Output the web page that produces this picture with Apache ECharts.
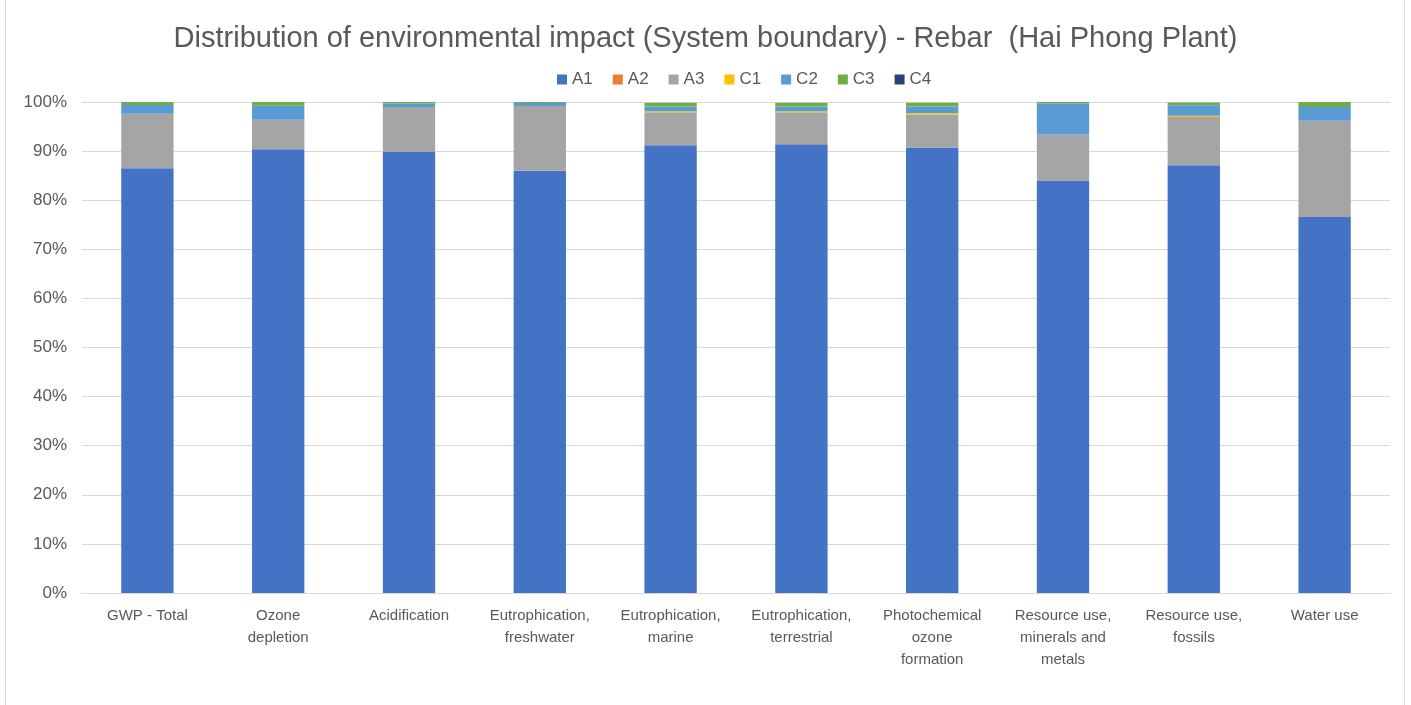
<!DOCTYPE html>
<html><head><meta charset="utf-8">
<script src="https://cdn.jsdelivr.net/npm/echarts@6/dist/echarts.min.js"></script>
<style>html,body{margin:0;padding:0;background:#fff;}
#frame{position:absolute;left:5px;top:-2px;width:1400px;height:720px;border:1px solid #d9d9d9;box-sizing:border-box;}
#c{width:1411px;height:705px;position:absolute;left:0;top:0;}</style>
</head><body><div id="frame"></div><div id="c"></div>
<script>
const categories = ["GWP - Total","Ozone\ndepletion","Acidification","Eutrophication,\nfreshwater","Eutrophication,\nmarine","Eutrophication,\nterrestrial","Photochemical\nozone\nformation","Resource use,\nminerals and\nmetals","Resource use,\nfossils","Water use"];
const A1 = [86.5, 90.4, 89.8, 86.0, 91.2, 91.4, 90.75, 83.9, 87.1, 76.6];
const A2 = [0, 0, 0, 0, 0, 0, 0, 0, 0, 0];
const A3 = [11.1, 6.0, 9.2, 13.2, 6.7, 6.5, 6.65, 9.5, 9.85, 19.6];
const C1 = [0, 0, 0, 0, 0.2, 0.2, 0.3, 0, 0.27, 0];
const C2 = [1.8, 2.85, 0.7, 0.6, 1.0, 1.0, 1.4, 6.3, 2.1, 2.8];
const C3 = [0.6, 0.75, 0.3, 0.2, 0.75, 0.75, 0.75, 0.3, 0.6, 1.0];
const C4 = [0, 0, 0, 0, 0, 0, 0, 0, 0, 0];
const yTicks = [0,10,20,30,40,50,60,70,80,90,100];

const seriesDefs = [["A1",A1,"#4472c4"],["A2",A2,"#ed7d31"],["A3",A3,"#a5a5a5"],["C1",C1,"#ffc000"],["C2",C2,"#5b9bd5"],["C3",C3,"#70ad47"],["C4",C4,"#264478"]];
const font = "'Liberation Sans',Arial,sans-serif";
const chart = echarts.init(document.getElementById('c'));
chart.setOption({
  animation:false,
  title:{text:"Distribution of environmental impact (System boundary) - Rebar  (Hai Phong Plant)",left:'center',top:19,
    textStyle:{fontFamily:font,fontSize:29,fontWeight:'normal',color:'#595959'}},
  legend:{top:66,left:552,itemWidth:10,itemHeight:10,itemGap:20,icon:'rect',
    textStyle:{fontFamily:font,fontSize:17,color:'#595959'}},
  grid:{left:82,right:21,top:102,bottom:112},
  xAxis:{type:'category',data:categories,
    axisLine:{lineStyle:{color:'#d9d9d9',width:1}},axisTick:{show:false},
    axisLabel:{interval:0,fontFamily:font,fontSize:15,color:'#595959',lineHeight:22,margin:12}},
  yAxis:{type:'value',min:0,max:100,interval:10,
    axisLabel:{formatter:v=>yTicks.includes(v)?v+'%':'',fontFamily:font,fontSize:17,color:'#595959',margin:15},
    splitLine:{lineStyle:{color:'#d9d9d9',width:1}},axisLine:{show:false},axisTick:{show:false}},
  series:seriesDefs.map(([n,d,c])=>({name:n,type:'bar',stack:'s',data:d,barWidth:'40%',
    itemStyle:{color:c},emphasis:{disabled:true}}))
});
</script></body></html>
